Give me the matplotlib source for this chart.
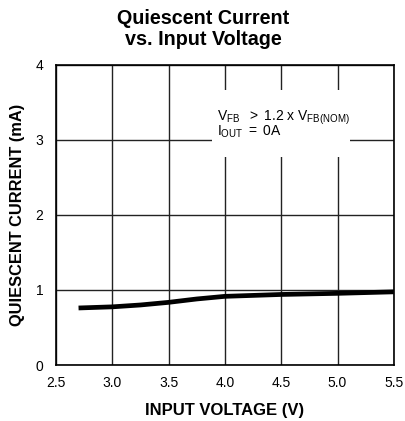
import numpy as np
import matplotlib
matplotlib.use('Agg')
import matplotlib.pyplot as plt
from matplotlib.patches import Rectangle

plt.rcParams['font.family'] = ['Liberation Sans', 'DejaVu Sans']
plt.rcParams['mathtext.fontset'] = 'custom'
plt.rcParams['mathtext.rm'] = 'Liberation Sans'
plt.rcParams['mathtext.it'] = 'Liberation Sans'

# data
vin = [2.7, 3.0, 3.25, 3.5, 3.75, 4.0, 4.5, 5.0, 5.5]
iq = [0.76, 0.775, 0.80, 0.835, 0.88, 0.915, 0.94, 0.955, 0.975]
xticks = [2.5, 3.0, 3.5, 4.0, 4.5, 5.0, 5.5]
yticks = [0, 1, 2, 3, 4]

fig = plt.figure(figsize=(4.06, 4.21), dpi=100)
ax = fig.add_axes([0.138, 0.133, 0.832, 0.713])

ax.set_xlim(2.5, 5.5)
ax.set_ylim(0, 4)
ax.set_xticks(xticks)
ax.set_xticklabels([f'{t:.1f}' for t in xticks])
ax.set_yticks(yticks)
ax.tick_params(axis='x', length=0, labelsize=10, pad=8)
ax.tick_params(axis='y', length=0, labelsize=10, pad=9)
ax.set_axisbelow(True)
ax.grid(True, color='#222222', linewidth=1.0)
for s in ax.spines.values():
    s.set_linewidth(1.2)

# white box behind the condition text
ax.add_patch(Rectangle((3.885, 2.77), 1.225, 0.9, facecolor='white',
                       edgecolor='none', zorder=1))

ax.plot(vin, iq, color='black', linewidth=3.4, solid_capstyle='butt', zorder=3)

cond = (r'$\mathrm{V_{FB}\ \ >\ 1.2\ x\ V_{FB(NOM)}}$' + '\n'
        + r'$\mathrm{I_{OUT}\ =\ 0A}$')
ax.text(3.93, 3.41, cond, fontsize=10, va='top', ha='left',
        linespacing=0.72, zorder=4)

ax.set_xlabel('INPUT VOLTAGE (V)', fontsize=12, fontweight='bold', labelpad=9)
ax.set_ylabel('QUIESCENT CURRENT (mA)', fontsize=11.8, fontweight='bold', labelpad=8)
fig.suptitle('Quiescent Current\nvs. Input Voltage', fontsize=14.2,
             fontweight='bold', x=0.5, y=0.978, linespacing=1.1)

fig.savefig('out.png', dpi=100)
